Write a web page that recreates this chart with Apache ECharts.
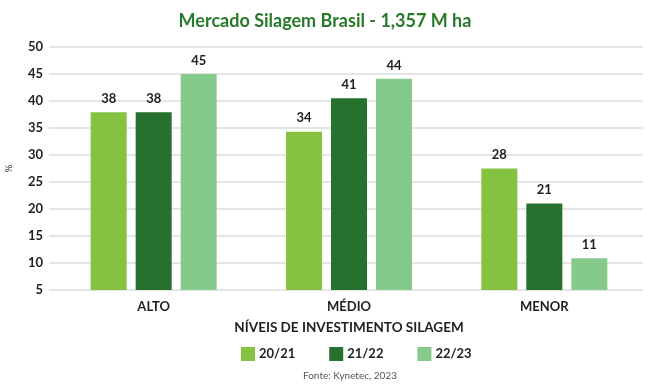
<!DOCTYPE html>
<html><head><meta charset="utf-8">
<script src="https://cdn.jsdelivr.net/npm/echarts@6/dist/echarts.min.js"></script>
<style>html,body{margin:0;padding:0;background:#fff}#c{width:650px;height:386px}</style>
</head><body><div id="c"></div>
<script>
const categories = ['ALTO', 'MÉDIO', 'MENOR'];
const seriesNames = ['20/21', '21/22', '22/23'];
const values2021 = [37.9, 34.3, 27.5];
const values2122 = [37.9, 40.5, 21.0];
const values2223 = [45.0, 44.1, 10.9];
const yTicks = [5, 10, 15, 20, 25, 30, 35, 40, 45, 50];
const colors = ['#86c241', '#25712d', '#85c98b'];
const FONT = 'Lato';
const DARK = '#1f1f1f';

const chart = echarts.init(document.getElementById('c'), null, {renderer: 'canvas'});
const allValues = [values2021, values2122, values2223];
const yMin = yTicks[0], yMax = yTicks[yTicks.length - 1];
chart.setOption({
  animation: false,
  textStyle: {fontFamily: FONT},
  title: {
    text: 'Mercado Silagem Brasil - 1,357 M ha',
    left: 'center', top: 7,
    textStyle: {fontFamily: FONT, fontWeight: 'bold', fontSize: 18, color: '#287a2b'}
  },
  graphic: [
    {type: 'text', x: 349, y: 321, style: {text: 'NÍVEIS DE INVESTIMENTO SILAGEM', textAlign: 'center', font: 'bold 13.5px ' + FONT, fill: DARK}},
    {type: 'text', x: 350, y: 371, style: {text: 'Fonte: Kynetec, 2023', textAlign: 'center', font: '10px ' + FONT, fill: '#555'}}
  ],
  legend: {
    data: seriesNames, top: 342, left: 236,
    itemWidth: 14, itemHeight: 14, itemGap: 34, icon: 'rect',
    textStyle: {fontFamily: FONT, fontWeight: 'bold', fontSize: 13, color: DARK, padding: [0, 0, 0, -1]}
  },
  grid: [
    {left: 49, right: 7, top: 47, bottom: 96, outerBoundsMode: 'none', containLabel: false},
    {left: 56, right: 8, top: 47, bottom: 96, outerBoundsMode: 'none', containLabel: false}
  ],
  xAxis: [
    {type: 'category', gridIndex: 0, data: categories, show: false},
    {
      type: 'category', gridIndex: 1, data: categories,
      axisLine: {show: false}, axisTick: {show: false},
      axisLabel: {fontFamily: FONT, fontWeight: 'bold', fontSize: 13, color: DARK, margin: 10}
    }
  ],
  yAxis: [
    {
      type: 'value', gridIndex: 0, min: yMin, max: yMax, interval: 5,
      name: '%', nameLocation: 'middle', nameGap: 35, nameRotate: 90,
      nameTextStyle: {fontFamily: FONT, fontSize: 10, color: '#333'},
      axisLine: {show: false}, axisTick: {show: false},
      axisLabel: {fontFamily: FONT, fontWeight: 'bold', fontSize: 13, color: DARK, margin: 6},
      splitLine: {lineStyle: {color: '#dcdcdc', width: 1.5}}
    },
    {
      type: 'value', gridIndex: 1, min: yMin, max: yMax, interval: 5,
      axisLine: {show: false}, axisTick: {show: false}, axisLabel: {show: false}, splitLine: {show: false}
    }
  ],
  series: seriesNames.map((n, i) => ({
    name: n, type: 'bar', data: allValues[i], xAxisIndex: 1, yAxisIndex: 1,
    barWidth: 36, barGap: '25%', clip: true,
    itemStyle: {color: colors[i]},
    label: {
      show: true, position: 'top', distance: 7,
      formatter: p => Math.round(p.value),
      fontFamily: FONT, fontWeight: 'bold', fontSize: 13, color: DARK
    }
  }))
});
</script></body></html>
